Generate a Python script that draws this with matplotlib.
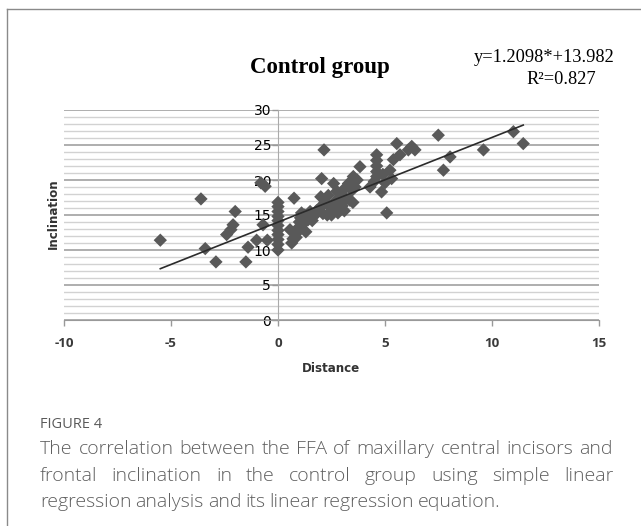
import numpy as np
import matplotlib
matplotlib.use("Agg")
import matplotlib.pyplot as plt
from matplotlib.lines import Line2D
from matplotlib.ticker import MultipleLocator

plt.rcParams["axes.unicode_minus"] = False

# ── data ──────────────────────────────────────────────────
distance = [
    -5.5, -3.6, -3.4, -2.9, -2.4, -2.2, -2.1, -2.0, -1.5, -1.4, -1.0,
    -0.8, -0.6, -0.7, -0.5,
    0.0, 0.0, 0.0, 0.0, 0.0, 0.0, 0.0, 0.0, 0.0, 0.0, 0.0,
    0.56, 0.64, 0.75, 0.7,
    0.85, 0.9, 0.95, 1.0, 1.05, 1.1, 1.2, 1.3, 1.25, 1.4, 1.5, 1.6, 1.7, 1.8,
    2.0, 2.0, 2.04, 2.15, 2.1, 2.2, 2.3, 2.35, 2.4, 2.5, 2.6, 2.6, 2.7, 2.75,
    2.8, 2.9, 3.0, 3.05, 3.1, 3.2, 3.29, 3.36, 3.45, 3.52, 3.6, 3.7, 3.83, 3.5,
    4.3, 4.5, 4.61, 4.61, 4.61, 4.61, 4.61, 4.84, 5.08, 5.23, 5.31, 5.39,
    5.55, 5.7, 6.09, 6.25, 6.4, 4.9, 5.0,
    7.49, 7.73, 8.04, 9.6, 11.0, 11.46,
]
inclination = [
    11.4, 17.3, 10.2, 8.3, 12.2, 12.9, 13.6, 15.5, 8.3, 10.4, 11.4,
    19.6, 19.1, 13.6, 11.4,
    10.0, 10.8, 11.5, 12.2, 12.8, 13.5, 14.2, 14.8, 15.5, 16.2, 16.8,
    12.9, 11.0, 17.4, 11.6,
    11.8, 12.5, 13.2, 14.0, 14.6, 15.3, 13.8, 12.6, 15.0, 14.3, 15.5, 14.2, 14.9, 15.6,
    16.2, 17.6, 20.2, 24.3, 15.2, 16.8, 15.0, 17.8, 16.2, 15.0, 16.0, 19.5, 17.0, 18.4,
    15.3, 17.6, 16.3, 18.6, 15.6, 17.3, 19.5, 17.1, 18.5, 20.5, 19.0, 20.0, 21.9, 16.8,
    19.0, 19.8, 20.5, 21.2, 22.0, 22.8, 23.6, 18.3, 15.3, 21.4, 20.2, 22.9,
    25.2, 23.6, 24.3, 24.8, 24.3, 20.8, 19.6,
    26.4, 21.4, 23.3, 24.3, 26.9, 25.2,
]
slope = 1.2098
intercept = 13.982
x_ticks = [-10, -5, 0, 5, 10, 15]
y_ticks = [0, 5, 10, 15, 20, 25, 30]

title = "Control group"
equation = "y=1.2098*+13.982"
r_squared = "R\u00b2=0.827"
caption_head = "FIGURE 4"
caption_lines = [
    "The correlation between the FFA of maxillary central incisors and",
    "frontal inclination in the control group using simple linear",
    "regression analysis and its linear regression equation.",
]

fig = plt.figure(figsize=(6.41, 5.26), dpi=100)
ax = fig.add_axes([64 / 641, 1 - 320 / 526, 535 / 641, 210 / 526])

# grid: light line every unit, darker at every 5
ax.yaxis.set_minor_locator(MultipleLocator(1))
ax.grid(axis="y", which="minor", color="#d2d2d2", lw=1.0)
ax.grid(axis="y", which="major", color="#a8a8a8", lw=1.3)
ax.set_axisbelow(True)

ax.scatter(distance, inclination, marker="D", s=46, color="#595959",
           edgecolors="none", zorder=3)

xl = np.array([min(distance), max(distance)])
ax.plot(xl, slope * xl + intercept, color="#2b2b2b", lw=1.2, zorder=4)

tick_font = dict(family="Open Sans", fontweight="bold", fontsize=9.6,
                 color="#3a3a3a")
ax.set_xlim(-10, 15)
ax.set_ylim(0, 30)
ax.set_xticks(x_ticks, labels=[str(v) for v in x_ticks], **tick_font)
ax.set_yticks(y_ticks, labels=[str(v) for v in y_ticks], **tick_font)
ax.tick_params(axis="y", which="minor", length=0)
ax.tick_params(axis="both", which="major", color="#999999", length=4, width=1)
ax.tick_params(axis="x", pad=8)
ax.tick_params(axis="y", pad=1)
for s in ["top", "right"]:
    ax.spines[s].set_visible(False)
ax.spines["left"].set_position(("data", 0))
ax.spines["left"].set_color("#aaaaaa")
ax.spines["bottom"].set_color("#999999")
ax.spines["bottom"].set_zorder(2)

fig.text(53 / 641, 1 - 214 / 526, "Inclination", rotation=90, ha="center",
         va="center", fontsize=8.6, fontweight="bold", color="#333333")
fig.text(331 / 641, 1 - 369 / 526, "Distance", ha="center", va="center",
         fontsize=8.6, fontweight="bold", color="#333333")

fig.text(320 / 641, 1 - 68 / 526, title, ha="center", va="center",
         family="Liberation Serif", fontweight="bold", fontsize=16.5)
fig.text(544 / 641, 1 - 57 / 526, equation, ha="center", va="center",
         family="Liberation Serif", fontsize=13.2)
fig.text(561 / 641, 1 - 80 / 526, r_squared, ha="center", va="center",
         family="Liberation Serif", fontsize=13.2)

# outer frame (top and left edges visible)
fig.add_artist(Line2D([7 / 641, 7 / 641], [0, 1 - 8.5 / 526],
                      transform=fig.transFigure, color="#8a8a8a", lw=1))
fig.add_artist(Line2D([7 / 641, 1], [1 - 8.5 / 526, 1 - 8.5 / 526],
                      transform=fig.transFigure, color="#8a8a8a", lw=1))

# caption
cap_font = dict(family="Open Sans", color="#5f5f5f", fontweight="light")
fig.text(40 / 641, 1 - 425 / 526, caption_head, ha="left", va="center",
         fontsize=10.5, family="Open Sans", color="#5a5a5a")

renderer = fig.canvas.get_renderer()
left_px, right_px = 40, 613
line_y = [449, 476, 502]
for i, line in enumerate(caption_lines):
    yy = 1 - line_y[i] / 526
    words = line.split()
    texts = [fig.text(0, yy, w, ha="left", va="center", fontsize=14,
                      **cap_font) for w in words]
    widths = [t.get_window_extent(renderer).width for t in texts]
    if i < len(caption_lines) - 1:
        gap = (right_px - left_px - sum(widths)) / (len(words) - 1)
    else:
        gap = texts[0].get_window_extent(renderer).height * 0.22
    pos = left_px
    for t, w in zip(texts, widths):
        t.set_x(pos / 641)
        pos += w + gap

fig.savefig("out.png", dpi=100)
